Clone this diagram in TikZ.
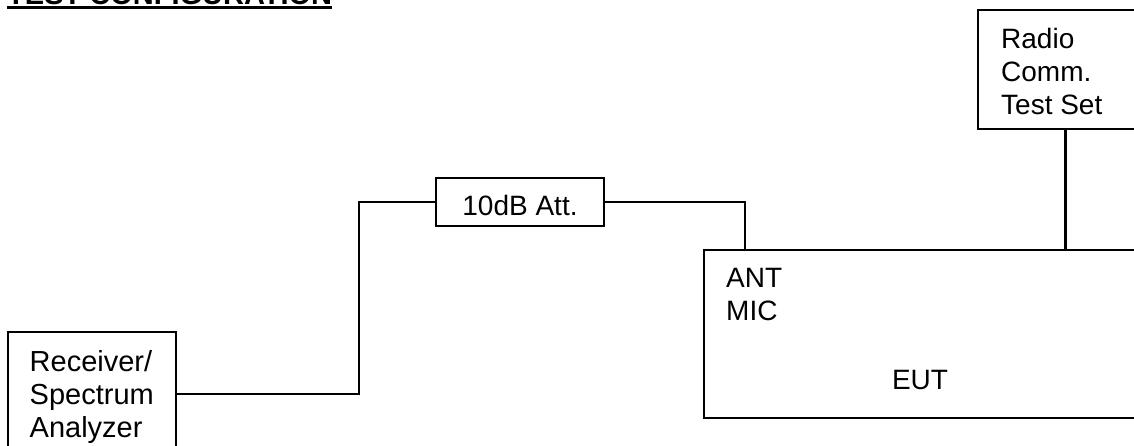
\documentclass[tikz,border=0pt]{standalone}
\usepackage{fontspec}
\setmainfont{Liberation Sans}
\begin{document}
\begin{tikzpicture}[x=1pt,y=-1pt,
  box/.style={draw, line width=1.9pt, inner sep=0pt, rectangle},
  wire/.style={line width=1.8pt},
  thickwire/.style={line width=3pt},
  txt/.style={font=\fontsize{28}{33}\selectfont, anchor=base west, inner sep=0pt, align=left},
  ttl/.style={font=\fontsize{29}{34}\selectfont\bfseries, anchor=base west, inner sep=0pt}]
\useasboundingbox (0,0) rectangle (1134,445);
\clip (0,0) rectangle (1134,445);
% title
\node[ttl] (title) at (7,4) {TEST CONFIGURATION};
\draw[line width=2.8pt] ([yshift=-3.5pt]title.base west) -- ([yshift=-3.5pt]title.base east);
% boxes
\node[box, minimum width=168pt, minimum height=138pt] (rx) at (92,401) {};
\node[box, minimum width=168pt, minimum height=48pt, font=\fontsize{28}{33}\selectfont, text height=26pt, text depth=0pt] (att) at (520,202) {10dB Att.};
\node[box, minimum width=456pt, minimum height=168pt] (eut) at (932,334) {};
\node[box, minimum width=182pt, minimum height=119pt] (radio) at (1069,69.5) {};
% texts (base anchor = baseline of the last line)
\node[txt, font=\fontsize{29}{33}\selectfont] (rxt) at (29.5,437) {Receiver/\\Spectrum\\Analyzer};
\node[txt] (radiot) at (1001,114) {Radio\\Comm.\\Test Set};
\node[txt] (antt) at (726,320) {ANT\\MIC};
\node[txt, anchor=base] (eutt) at (920,389) {EUT};
% connectors
\coordinate (j1) at (359,394);
\coordinate (j2) at (359,202);
\coordinate (j3) at (745,202);
\coordinate (j4) at (1065,190);
\draw[wire] (rx.east |- j1) -- (j1) -- (j2) -- (att.west);
\draw[wire] (att.east) -- (j3) -- (j3 |- eut.north);
\draw[thickwire] (j4 |- radio.south) -- (j4 |- eut.north);
\end{tikzpicture}
\end{document}
